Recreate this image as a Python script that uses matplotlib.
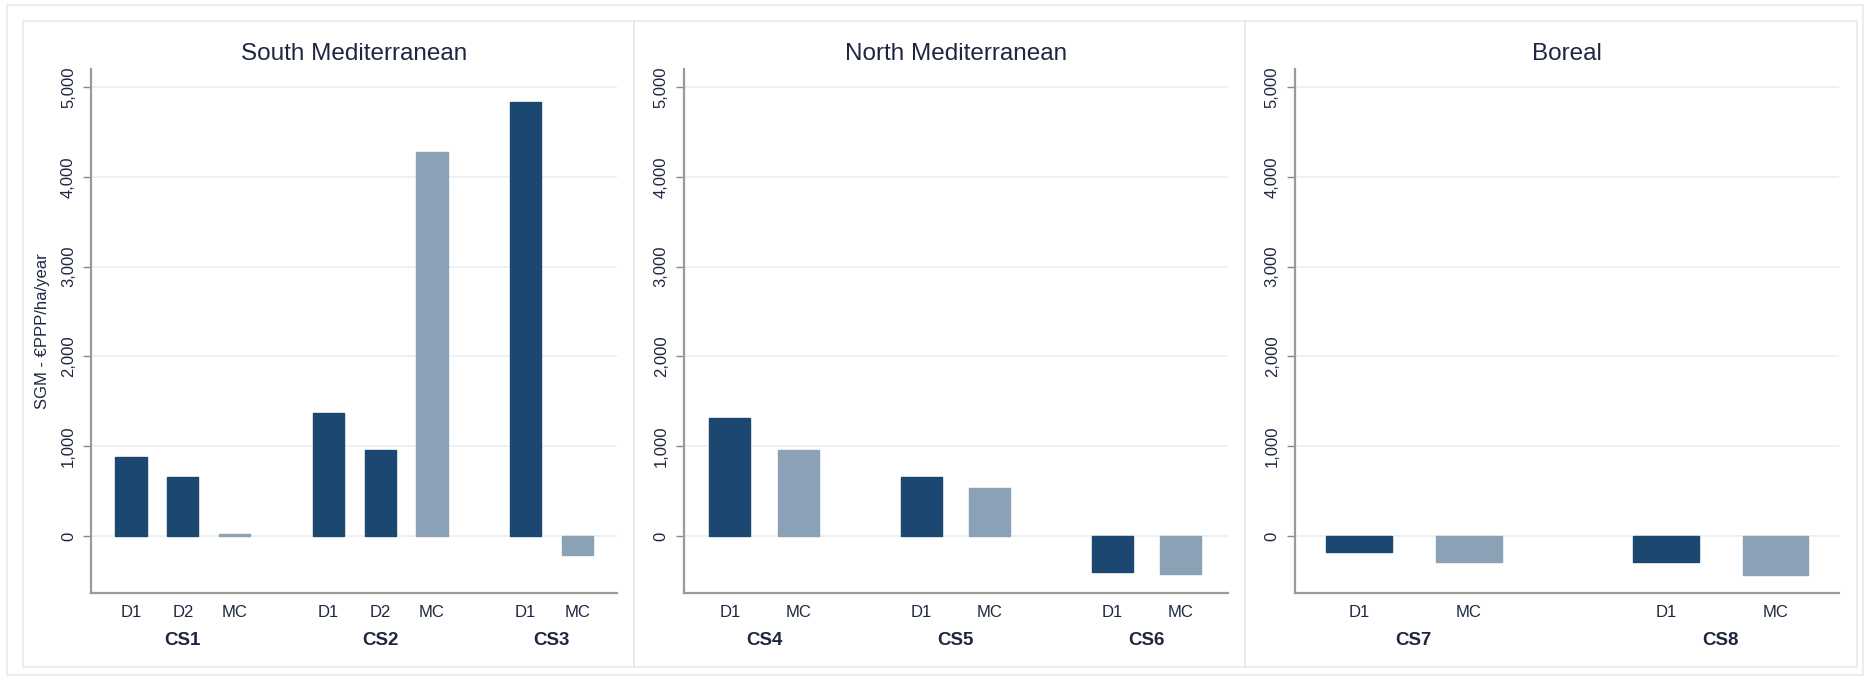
import matplotlib
matplotlib.use('Agg')
import matplotlib.pyplot as plt
from matplotlib.patches import Rectangle

plt.rcParams['font.family'] = ['Liberation Sans', 'DejaVu Sans']

# Data (SGM - EUR PPP/ha/year)
titles = ['South Mediterranean', 'North Mediterranean', 'Boreal']

south_groups = ['CS1', 'CS2', 'CS3']
south_labels = [['D1', 'D2', 'MC'], ['D1', 'D2', 'MC'], ['D1', 'MC']]
south_values = [[879, 652, 20], [1372, 961, 4275], [4831, -217]]

north_groups = ['CS4', 'CS5', 'CS6']
north_labels = [['D1', 'MC'], ['D1', 'MC'], ['D1', 'MC']]
north_values = [[1314, 961], [662, 531], [-401, -425]]

boreal_groups = ['CS7', 'CS8']
boreal_labels = [['D1', 'MC'], ['D1', 'MC']]
boreal_values = [[-184, -295], [-295, -440]]

yticks = [0, 1000, 2000, 3000, 4000, 5000]

dark = '#1c4770'
light = '#8ba1b6'
frame = '#e4ecec'
text_col = '#1f2740'

fig = plt.figure(figsize=(18.7, 6.79), dpi=100)
W, H = 1870, 679

# outer frame and panel frames
fig.patches.append(Rectangle((7 / W, 1 - 675 / H), 1856 / W, 670 / H, transform=fig.transFigure,
                             fill=False, edgecolor=frame, lw=1.2))
for x0, x1 in [(23, 634), (634, 1245), (1245, 1857)]:
    fig.patches.append(Rectangle((x0 / W, 1 - 667 / H), (x1 - x0) / W, 646 / H, transform=fig.transFigure,
                                 fill=False, edgecolor=frame, lw=1.2))

panels = [
    (south_groups, south_labels, south_values, [91.3 / W, 526 / W], (-0.765, 9.37)),
    (north_groups, north_labels, north_values, [684 / W, 544 / W], (-0.67, 7.29)),
    (boreal_groups, boreal_labels, boreal_values, [1295 / W, 544 / W], (-0.585, 4.38)),
]

bottom = 1 - 592.5 / H
height = (592.5 - 69.3) / H
gap = 1.8

for i, (groups, labels, values, (left, width), xlim) in enumerate(panels):
    ax = fig.add_axes([left, bottom, width, height])
    pos = 0.0
    xs, xl = [], []
    for g, labs, vals in zip(groups, labels, values):
        gx = []
        for lab, v in zip(labs, vals):
            col = light if lab == 'MC' else dark
            ax.bar(pos, v, width=0.6, color=col, edgecolor=col, lw=1, zorder=3)
            xs.append(pos)
            xl.append(lab)
            gx.append(pos)
            pos += 1
        pos += gap - 1
        ax.text(sum(gx) / len(gx), -0.0908, g, transform=ax.get_xaxis_transform(),
                ha='center', va='center', fontsize=13.5, fontweight='bold', color=text_col)

    ax.set_xlim(*xlim)
    ax.set_ylim(-630, 5200)
    ax.set_xticks(xs)
    ax.set_xticklabels(xl, fontsize=12, color=text_col)
    ax.tick_params(axis='x', length=0, pad=9)
    ax.set_yticks(yticks)
    ax.set_yticklabels([f'{t:,}' for t in yticks], rotation=90, va='center', fontsize=12, color=text_col)
    ax.tick_params(axis='y', length=6, width=1, color='#888888', pad=5)
    ax.grid(axis='y', color='#eaf1f1', lw=1.3, zorder=0)
    for s in ['top', 'right']:
        ax.spines[s].set_visible(False)
    for s in ['left', 'bottom']:
        ax.spines[s].set_color('#9a9a9a')
        ax.spines[s].set_linewidth(1.6)
    ax.text(0.5, 1.029, titles[i], transform=ax.transAxes, ha='center', va='center',
            fontsize=17.5, color=text_col)

fig.text(43 / W, 1 - 331 / H, 'SGM - €PPP/ha/year', rotation=90, ha='center', va='center',
         fontsize=12, color=text_col)

fig.savefig('out.png', dpi=100)
